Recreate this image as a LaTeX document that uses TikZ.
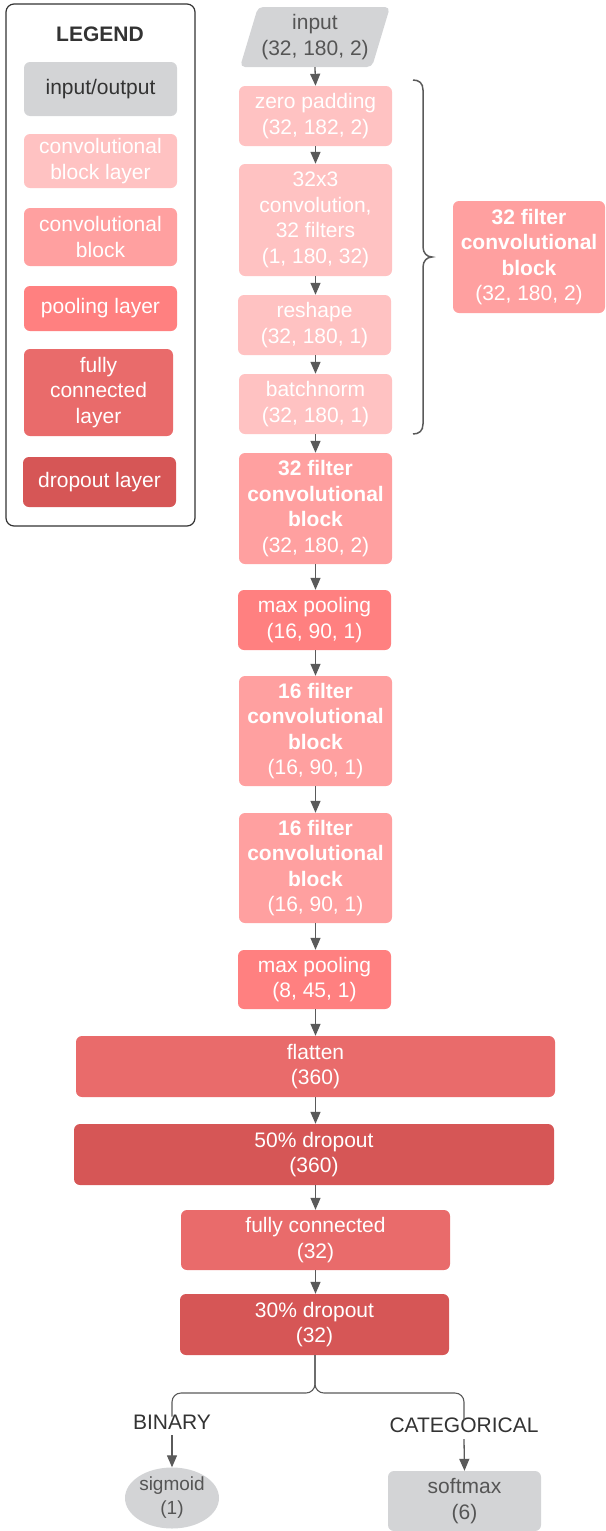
\documentclass[tikz,border=0pt]{standalone}
\usepackage{fontspec}
\setmainfont{Liberation Sans}
\usetikzlibrary{arrows.meta,shapes.geometric}
\definecolor{iogray}{HTML}{D3D4D6}
\definecolor{cbl}{HTML}{FFC2C2}
\definecolor{cblock}{HTML}{FFA0A0}
\definecolor{pool}{HTML}{FF8080}
\definecolor{fcc}{HTML}{E96B6B}
\definecolor{drop}{HTML}{D65656}
\definecolor{darktxt}{HTML}{333333}
\definecolor{midtxt}{HTML}{555555}
\definecolor{linec}{HTML}{5A5A5A}
\newcommand{\fs}{\fontsize{21}{25.5}\selectfont}
\tikzset{
  box/.style={rectangle, rounded corners=6pt, inner sep=0pt, align=center, text=white, font=\fs},
  iobox/.style={box, fill=iogray, text=midtxt},
  cblbox/.style={box, fill=cbl},
  cbbox/.style={box, fill=cblock},
  poolbox/.style={box, fill=pool},
  fcbox/.style={box, fill=fcc},
  dropbox/.style={box, fill=drop},
  arr/.style={draw=linec, line width=1.3pt, -{Triangle[width=10pt,length=12pt]}},
  plain/.style={draw=linec, line width=1.1pt},
  lbl/.style={inner sep=0pt, align=center, text=darktxt, font=\fs}
}
\begin{document}
\begin{tikzpicture}[x=1pt,y=-1pt]
\useasboundingbox (0,0) rectangle (605,1531);
% legend
\node[draw=darktxt, line width=1.2pt, rounded corners=8pt, minimum width=189pt, minimum height=522pt, inner sep=0pt] (legend) at (100.5,265) {};
\node[lbl, font=\fs\bfseries] (legtitle) at (100,34) {LEGEND};
\node[iobox, text=darktxt, minimum width=153pt, minimum height=54pt] (lio) at (100.5,89) {input/output};
\node[cblbox, minimum width=153pt, minimum height=54pt] (lcbl) at (100.5,161) {convolutional\\block layer};
\node[cbbox, minimum width=153pt, minimum height=58pt] (lcb) at (100.5,237) {convolutional\\block};
\node[poolbox, minimum width=153pt, minimum height=45pt] (lpool) at (100.5,308.5) {pooling layer};
\node[fcbox, minimum width=149pt, minimum height=87pt] (lfc) at (98.5,392.5) {fully\\connected\\layer};
\node[dropbox, minimum width=153pt, minimum height=50pt] (ldrop) at (99.5,482) {dropout layer};
% input parallelogram
\fill[iogray, rounded corners=5pt] (258,7) -- (390,7) -- (372,67) -- (240,67) -- cycle;
\node[lbl, text=midtxt, minimum width=150pt, minimum height=60pt] (input) at (315,37) {input\\(32, 180, 2)};
% main column
\node[cblbox, minimum width=153pt, minimum height=60pt] (zp) at (315.5,116) {zero padding\\(32, 182, 2)};
\node[cblbox, minimum width=153pt, minimum height=112pt] (conv) at (315.5,220) {32x3\\convolution,\\32 filters\\(1, 180, 32)};
\node[cblbox, minimum width=153pt, minimum height=60pt] (reshape) at (314.5,325) {reshape\\(32, 180, 1)};
\node[cblbox, minimum width=153pt, minimum height=60pt] (bn) at (315.5,404) {batchnorm\\(32, 180, 1)};
\node[cbbox, minimum width=153pt, minimum height=111pt] (cb1) at (315.5,508.5) {\textbf{32 filter}\\\textbf{convolutional}\\\textbf{block}\\(32, 180, 2)};
\node[poolbox, minimum width=153pt, minimum height=60pt] (mp1) at (314.5,620) {max pooling\\(16, 90, 1)};
\node[cbbox, minimum width=153pt, minimum height=110pt] (cb2) at (315.5,731) {\textbf{16 filter}\\\textbf{convolutional}\\\textbf{block}\\(16, 90, 1)};
\node[cbbox, minimum width=153pt, minimum height=110pt] (cb3) at (315.5,868) {\textbf{16 filter}\\\textbf{convolutional}\\\textbf{block}\\(16, 90, 1)};
\node[poolbox, minimum width=153pt, minimum height=59pt] (mp2) at (314.5,979.5) {max pooling\\(8, 45, 1)};
\node[fcbox, minimum width=479pt, minimum height=61pt] (flat) at (315.5,1066.5) {flatten\\(360)};
\node[dropbox, minimum width=480pt, minimum height=61pt] (do1) at (314,1154.5) {50\% dropout\\(360)};
\node[fcbox, minimum width=269pt, minimum height=60pt] (fc) at (315.5,1240) {fully connected\\(32)};
\node[dropbox, minimum width=269pt, minimum height=61pt] (do2) at (314.5,1324.5) {30\% dropout\\(32)};
% side block
\node[cbbox, minimum width=152pt, minimum height=112pt] (side) at (529,257) {\textbf{32 filter}\\\textbf{convolutional}\\\textbf{block}\\(32, 180, 2)};
% brace
\draw[draw=linec, line width=1.5pt] (413,80) .. controls (419,80) and (423,83) .. (423,90) -- (423,247) .. controls (423,253) and (427,257) .. (432,257) .. controls (427,257) and (423,261) .. (423,267) -- (423,424) .. controls (423,431) and (419,434) .. (413,434);
% outputs
\node[lbl] (bin) at (172,1422) {BINARY};
\node[lbl] (cat) at (464,1425.5) {CATEGORICAL};
\node[ellipse, fill=iogray, inner sep=0pt, minimum width=94pt, minimum height=61pt, align=center, text=midtxt, font=\fontsize{19}{24}\selectfont] (sig) at (172,1498) {sigmoid\\(1)};
\node[iobox, minimum width=153pt, minimum height=60pt] (soft) at (464.5,1501) {softmax\\(6)};
% arrows
\draw[arr] (input.south) -- (zp.north);
\draw[arr] (zp.south) -- (conv.north);
\draw[arr] (conv.south) -- (reshape.north -| conv.south);
\draw[arr] (reshape.south -| zp.south) -- (bn.north);
\draw[arr] (bn.south) -- (cb1.north);
\draw[arr] (cb1.south) -- (mp1.north -| cb1.south);
\draw[arr] (mp1.south -| cb1.south) -- (cb2.north);
\draw[arr] (cb2.south) -- (cb3.north);
\draw[arr] (cb3.south) -- (mp2.north -| cb3.south);
\draw[arr] (mp2.south -| cb3.south) -- (flat.north);
\draw[arr] (flat.south) -- (do1.north -| flat.south);
\draw[arr] (do1.south -| flat.south) -- (fc.north);
\draw[arr] (fc.south) -- (do2.north -| fc.south);
\coordinate (split) at (315,1393);
\draw[plain, rounded corners=9pt] (do2.south -| split) -- (split) -| ([yshift=-2pt]bin.north);
\draw[plain, rounded corners=9pt] (do2.south -| split) -- (split) -| ([yshift=-2pt]cat.north);
\draw[arr] ([yshift=-6pt]bin.south) -- (sig.north);
\draw[arr] ([yshift=-6pt]cat.south) -- (soft.north);
\end{tikzpicture}
\end{document}
